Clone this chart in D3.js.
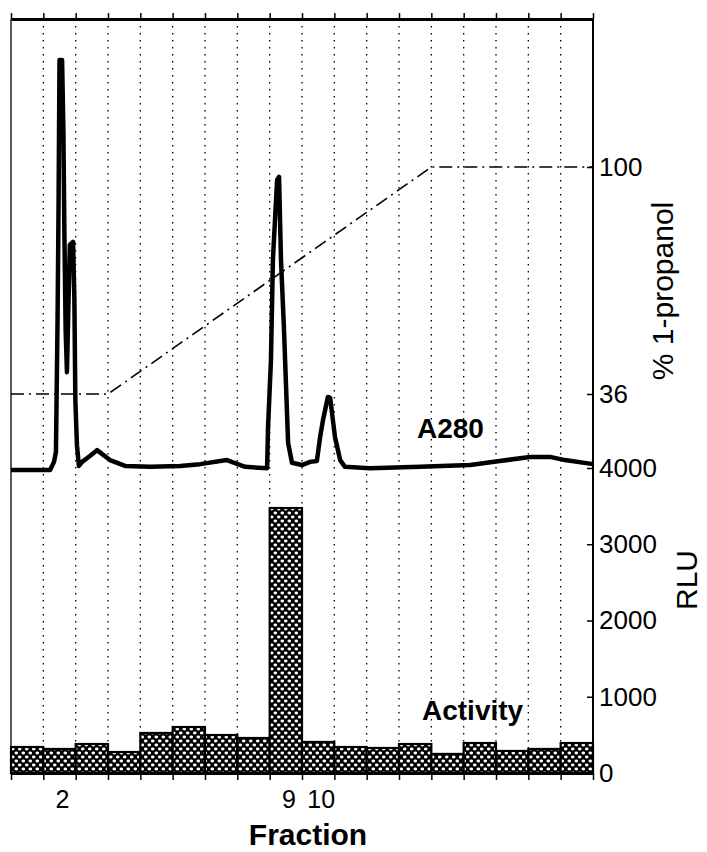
<!DOCTYPE html>
<html lang="en">
<head>
    <meta charset="UTF-8">
    <title>A280 / activity profile</title>
    <style>
        html,
        body {
            margin: 0;
            padding: 0;
            background: #fff;
            overflow: hidden;
        }

        text {
            font-family: 'Liberation Sans', Arial, sans-serif;
            fill: #000;
        }
    </style>
</head>
<body>
    <script src="https://cdn.jsdelivr.net/npm/d3@7"></script>
    <script>
        // fractions and activity (RLU) per fraction
        const fractions = [1, 2, 3, 4, 5, 6, 7, 8, 9, 10, 11, 12, 13, 14, 15, 16, 17, 18]
        const activity = [341, 315, 380, 275, 525, 603, 498, 459, 3475, 407, 341, 328, 380, 250, 393, 289, 315, 393]
        const fractionLabels = [2, 9, 10]

        const rluTicks = [0, 1000, 2000, 3000, 4000]
        const propanolTicks = [36, 100]

        // 1-propanol gradient (x in fraction units)
        const propanolX = [0, 3, 13, 18]
        const propanolY = [36, 36, 100, 100]

        // A280 trace, relative absorbance (x in fraction units)
        const a280X = [0, 1.21, 1.33, 1.39, 1.44, 1.47, 1.50, 1.58, 1.62, 1.65, 1.69, 1.73, 1.78, 1.82, 1.92, 1.96, 1.99, 2.04, 2.10, 2.20,
            2.44, 2.66, 3.06, 3.53, 4.30, 5.23, 5.85, 6.68, 7.24, 7.92, 7.95, 8.04, 8.10, 8.23, 8.29, 8.35, 8.44, 8.57, 8.69, 9.00,
            9.25, 9.46, 9.56, 9.65, 9.80, 9.87, 10.02, 10.18, 10.33, 11.10, 12.65, 14.20, 15.12, 16.05, 16.67, 17.13, 18.00]
        const a280Y = [0, 0, 0.018, 0.040, 0.333, 0.576, 0.909, 0.909, 0.754, 0.532, 0.310, 0.217, 0.377, 0.499, 0.506, 0.377, 0.155, 0.055, 0.009, 0.018,
            0.031, 0.044, 0.022, 0.009, 0.007, 0.009, 0.013, 0.022, 0.007, 0.004, 0.095, 0.244, 0.466, 0.643, 0.650, 0.466, 0.317, 0.060, 0.016, 0.011,
            0.018, 0.020, 0.073, 0.111, 0.162, 0.160, 0.073, 0.022, 0.007, 0.004, 0.007, 0.011, 0.020, 0.029, 0.029, 0.022, 0.013]

        const width = 707
        const height = 852
        const margin = { top: 19, left: 11, right: 114, bottom: 79 }
        const w = width - (margin.left + margin.right)
        const h = height - (margin.top + margin.bottom)

        const svg = d3.select('body')
            .append('svg')
            .attr('width', width)
            .attr('height', height)

        // hatch for the bars: black with white dots
        const pat = svg.append('defs')
            .append('pattern')
            .attr('id', 'hatch')
            .attr('patternUnits', 'userSpaceOnUse')
            .attr('width', 7)
            .attr('height', 8)
        pat.append('rect').attr('width', 7).attr('height', 8).attr('fill', '#000')
        pat.append('ellipse').attr('cx', 1.75).attr('cy', 2).attr('rx', 1.8).attr('ry', 1.4).attr('fill', '#fff')
        pat.append('ellipse').attr('cx', 5.25).attr('cy', 6).attr('rx', 1.8).attr('ry', 1.4).attr('fill', '#fff')

        const g = svg.append('g')
            .attr('transform', `translate(${margin.left}, ${margin.top})`)

        const x = d3.scaleLinear().domain([0, 18]).range([0, w])
        const xBand = d3.scaleBand().domain(fractions).range([0, w]).padding(0)
        const rlu = d3.scaleLinear().domain([0, 4000]).range([h, 449])
        const prop = d3.scaleLinear().domain([36, 100]).range([375, 148])
        const a280 = d3.scaleLinear().domain([0, 1]).range([451, 0])

        // dotted grid at fraction boundaries
        g.selectAll('.grid')
            .data(d3.range(1, 18))
            .enter()
            .append('line')
            .attr('class', 'grid')
            .attr('x1', (d) => x(d)).attr('x2', (d) => x(d))
            .attr('y1', 0).attr('y2', h)
            .attr('stroke', '#000')
            .attr('stroke-width', 1.3)
            .attr('stroke-dasharray', '1.5, 5.5')

        // activity bars
        g.selectAll('.bar')
            .data(fractions)
            .enter()
            .append('rect')
            .attr('class', 'bar')
            .attr('x', (d) => xBand(d))
            .attr('y', (d, i) => rlu(activity[i]))
            .attr('width', xBand.bandwidth())
            .attr('height', (d, i) => h - rlu(activity[i]))
            .attr('fill', 'url(#hatch)')
            .attr('stroke', '#000')
            .attr('stroke-width', 2.2)

        // propanol gradient
        g.append('path')
            .datum(propanolX.map((d, i) => [d, propanolY[i]]))
            .attr('fill', 'none')
            .attr('stroke', '#000')
            .attr('stroke-width', 1.6)
            .attr('stroke-dasharray', '13, 5, 2, 5')
            .attr('d', d3.line().x((d) => x(d[0])).y((d) => prop(d[1])))

        // A280 trace
        g.append('path')
            .datum(a280X.map((d, i) => [d, a280Y[i]]))
            .attr('fill', 'none')
            .attr('stroke', '#000')
            .attr('stroke-width', 4.5)
            .attr('stroke-linejoin', 'round')
            .attr('d', d3.line().x((d) => x(d[0])).y((d) => a280(d[1])))

        // frame
        g.append('line')
            .attr('x1', 0).attr('x2', 0).attr('y1', 0).attr('y2', h)
            .attr('stroke', '#000').attr('stroke-width', 1.3)
        g.append('line')
            .attr('x1', w).attr('x2', w).attr('y1', 0).attr('y2', h)
            .attr('stroke', '#000').attr('stroke-width', 2)

        const topAxis = g.append('g')
            .call(d3.axisTop(x).tickValues(d3.range(0, 19)).tickSize(6).tickSizeOuter(0).tickFormat(''))
        topAxis.select('.domain').attr('stroke-width', 2.8)
        topAxis.selectAll('.tick line').attr('stroke-width', 1.5)

        const bottomAxis = g.append('g')
            .attr('transform', `translate(0, ${h})`)
            .call(d3.axisBottom(x).tickValues(d3.range(0, 19)).tickSize(7).tickSizeOuter(0).tickFormat(''))
        bottomAxis.select('.domain').attr('stroke-width', 2.8)
        bottomAxis.selectAll('.tick line').attr('stroke-width', 1.5)

        const labelAxis = g.append('g')
            .attr('transform', `translate(3, ${h})`)
            .call(d3.axisBottom(xBand).tickValues(fractionLabels).tickSize(0).tickPadding(17))
        labelAxis.select('.domain').remove()
        labelAxis.selectAll('text')
            .attr('font-size', 25)
            .attr('font-family', "'Liberation Sans', Arial, sans-serif")

        // right axes: RLU and % 1-propanol
        const rluAxis = g.append('g')
            .attr('transform', `translate(${w}, 0)`)
            .call(d3.axisRight(rlu).tickValues(rluTicks).tickSize(-6).tickPadding(6).tickSizeOuter(0).tickFormat(d3.format('d')))
        const propAxis = g.append('g')
            .attr('transform', `translate(${w}, 0)`)
            .call(d3.axisRight(prop).tickValues(propanolTicks).tickSize(-6).tickPadding(6).tickSizeOuter(0).tickFormat(d3.format('d')))
        for (const ax of [rluAxis, propAxis]) {
            ax.select('.domain').remove()
            ax.selectAll('.tick line').attr('stroke-width', 1.5)
            ax.selectAll('text')
                .attr('font-size', 26)
                .attr('font-family', "'Liberation Sans', Arial, sans-serif")
        }

        // titles
        svg.append('text')
            .attr('transform', 'translate(673, 291) rotate(-90)')
            .attr('text-anchor', 'middle')
            .attr('font-size', 30)
            .text('% 1-propanol')

        svg.append('text')
            .attr('transform', 'translate(697, 580) rotate(-90)')
            .attr('text-anchor', 'middle')
            .attr('font-size', 30)
            .text('RLU')

        svg.append('text')
            .attr('x', 308).attr('y', 845)
            .attr('text-anchor', 'middle')
            .attr('font-size', 30)
            .attr('font-weight', 'bold')
            .text('Fraction')

        g.append('text')
            .attr('x', 406).attr('y', 419)
            .attr('font-size', 28)
            .attr('font-weight', 'bold')
            .text('A280')

        g.append('text')
            .attr('x', 411).attr('y', 701)
            .attr('font-size', 28)
            .attr('font-weight', 'bold')
            .text('Activity')
    </script>
</body>
</html>
